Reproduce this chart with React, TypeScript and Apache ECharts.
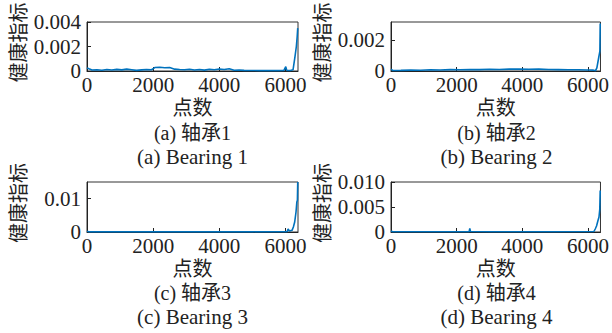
import React, { useEffect, useRef } from "react";
import * as echarts from "echarts";

// Point index (x) and health-index values (y) for each bearing
const b1X = [0, 60, 150, 300, 450, 600, 750, 900, 1050, 1200, 1350, 1500, 1650, 1800, 1950, 2050, 2200, 2350, 2500, 2650, 2800, 2950, 3100, 3250, 3400, 3550, 3700, 3850, 4000, 4150, 4300, 4450, 4600, 4750, 4900, 5050, 5200, 5400, 5600, 5800, 5950, 6010, 6040, 6150, 6230, 6290, 6330, 6355, 6372];
const b1Y = [0.00025, 0.00018, 0.00008, 0.0001, 0.00006, 0.00012, 0.00008, 0.00013, 0.00009, 0.00015, 0.0001, 0.00005, 0.00009, 0.00012, 0.0001, 0.00028, 0.0003, 0.00026, 0.00028, 0.00015, 0.00012, 0.0001, 0.00014, 0.00008, 0.00012, 0.00007, 0.00014, 0.0001, 0.00016, 0.00012, 0.00018, 0.00006, 0.00008, 0.00005, 0.00004, 0.00004, 0.00003, 0.00003, 0.00004, 0.00003, 0.00004, 0.00035, 0.00005, 0.00004, 0.0001, 0.0012, 0.002, 0.0028, 0.0035];

const b2X = [0, 60, 300, 600, 900, 1200, 1500, 1800, 2100, 2400, 2700, 3000, 3300, 3600, 3900, 4200, 4500, 4800, 5100, 5400, 5700, 6000, 6150, 6230, 6270, 6320, 6362, 6372];
const b2Y = [0.00012, 0.00003, 0.00004, 0.00006, 0.00005, 0.00008, 0.00007, 0.00009, 0.00008, 0.0001, 0.00009, 0.00011, 0.0001, 0.00012, 0.00013, 0.00011, 0.00012, 0.0001, 0.00009, 0.00008, 0.00008, 0.00007, 0.00006, 0.00002, 0.0002, 0.0008, 0.0013, 0.0031];

const b3X = [0, 50, 1000, 2000, 3000, 4000, 5000, 6050, 6080, 6120, 6200, 6240, 6280, 6320, 6345, 6362, 6372];
const b3Y = [0.0002, 0.00005, 0.00005, 0.00006, 0.00005, 0.00006, 0.00005, 0.0001, 0.0009, 0.0003, 0.0005, 0.0015, 0.003, 0.006, 0.009, 0.0095, 0.015];

const b4X = [0, 50, 1000, 2000, 2380, 2400, 2420, 3000, 4000, 5000, 6180, 6220, 6260, 6300, 6335, 6358, 6372];
const b4Y = [0.0002, 0.00005, 0.00005, 0.00005, 0.00005, 0.0007, 0.0001, 0.00006, 0.00005, 0.00005, 0.0001, 0.0006, 0.0012, 0.0022, 0.003, 0.0045, 0.0083];

const xTicks = [0, 2000, 4000, 6000];
const yMaxes = [0.004, 0.0032, 0.015, 0.01];
const yIntervals = [0.002, 0.002, 0.01, 0.005];
const yDecimals = [3, 3, 2, 3];
const titlesCn = ["(a) 轴承1", "(b) 轴承2", "(c) 轴承3", "(d) 轴承4"];
const titlesEn = ["(a) Bearing 1", "(b) Bearing 2", "(c) Bearing 3", "(d) Bearing 4"];
const xName = "点数";
const yName = "健康指标";
const xMax = 6380;

const FONT = '"Liberation Serif", "Noto Sans CJK SC", serif';

export default function App() {
  const ref = useRef<HTMLDivElement>(null);
  useEffect(() => {
    if (!ref.current) return;
    const chart = echarts.init(ref.current, undefined, { renderer: "svg" });
    const xsAll = [b1X, b2X, b3X, b4X];
    const ysAll = [b1Y, b2Y, b3Y, b4Y];
    const grids = [
      { left: 87, top: 22, width: 211, height: 49 },
      { left: 391, top: 22, width: 211, height: 49 },
      { left: 87, top: 182, width: 211, height: 50 },
      { left: 391, top: 182, width: 211, height: 50 },
    ];
    const axisCommon = {
      axisLine: { show: true, onZero: false, lineStyle: { color: "#222", width: 1 } },
      axisTick: { show: true, inside: true, length: 4, lineStyle: { color: "#222" } },
      splitLine: { show: false },
    };
    const option: any = {
      animation: false,
      textStyle: { fontFamily: FONT },
      grid: grids.map((g) => ({ ...g, show: true, borderColor: "#333", borderWidth: 1, backgroundColor: "transparent" })),
      xAxis: grids.map((_, i) => ({
        type: "value",
        gridIndex: i,
        min: 0,
        max: xMax,
        interval: 2000,
        ...axisCommon,
        name: xName,
        nameLocation: "middle",
        nameGap: 27,
        nameTextStyle: { fontFamily: FONT, fontSize: 20, color: "#222" },
        axisLabel: {
          margin: 3,
          fontFamily: FONT,
          fontSize: 21,
          color: "#222",
          showMaxLabel: false,
          formatter: (v: number) => (xTicks.indexOf(v) >= 0 ? String(v) : ""),
        },
      })),
      yAxis: grids.map((_, i) => ({
        type: "value",
        gridIndex: i,
        min: 0,
        max: yMaxes[i],
        interval: yIntervals[i],
        ...axisCommon,
        name: yName,
        nameLocation: "middle",
        nameRotate: 90,
        nameGap: 58,
        nameTextStyle: { fontFamily: FONT, fontSize: 20, color: "#222", padding: [0, 0, 0, 8] },
        axisLabel: {
          margin: 6,
          fontFamily: FONT,
          fontSize: 21,
          color: "#222",
          showMaxLabel: i === 0 || i === 3,
          formatter: (v: number) => {
            if (v === 0) return "0";
            const r = Math.round(v / yIntervals[i]) * yIntervals[i];
            if (Math.abs(r - v) > 1e-9) return "";
            return v.toFixed(yDecimals[i]);
          },
        },
      })),
      series: grids.map((_, i) => ({
        type: "line",
        xAxisIndex: i,
        yAxisIndex: i,
        showSymbol: false,
        symbol: "none",
        lineStyle: { color: "#0072BD", width: 1.6 },
        data: xsAll[i].map((x, k) => [x, ysAll[i][k]]),
      })),
      graphic: grids.flatMap((g, i) => {
        const cx = g.left + g.width / 2;
        const base = i < 2 ? 0 : 160;
        return [
          {
            type: "text",
            x: cx,
            y: 133 + base,
            style: { text: titlesCn[i], font: `20px ${FONT}`, fill: "#222", align: "center", verticalAlign: "middle" },
          },
          {
            type: "text",
            x: cx,
            y: 157 + base,
            style: { text: titlesEn[i], font: `21px ${FONT}`, fill: "#222", align: "center", verticalAlign: "middle" },
          },
        ];
      }),
    };
    chart.setOption(option);
    return () => chart.dispose();
  }, []);
  return (
    <div
      ref={ref}
      style={{ position: "absolute", left: 0, top: 0, width: 612, height: 333, background: "#fff" }}
    />
  );
}
